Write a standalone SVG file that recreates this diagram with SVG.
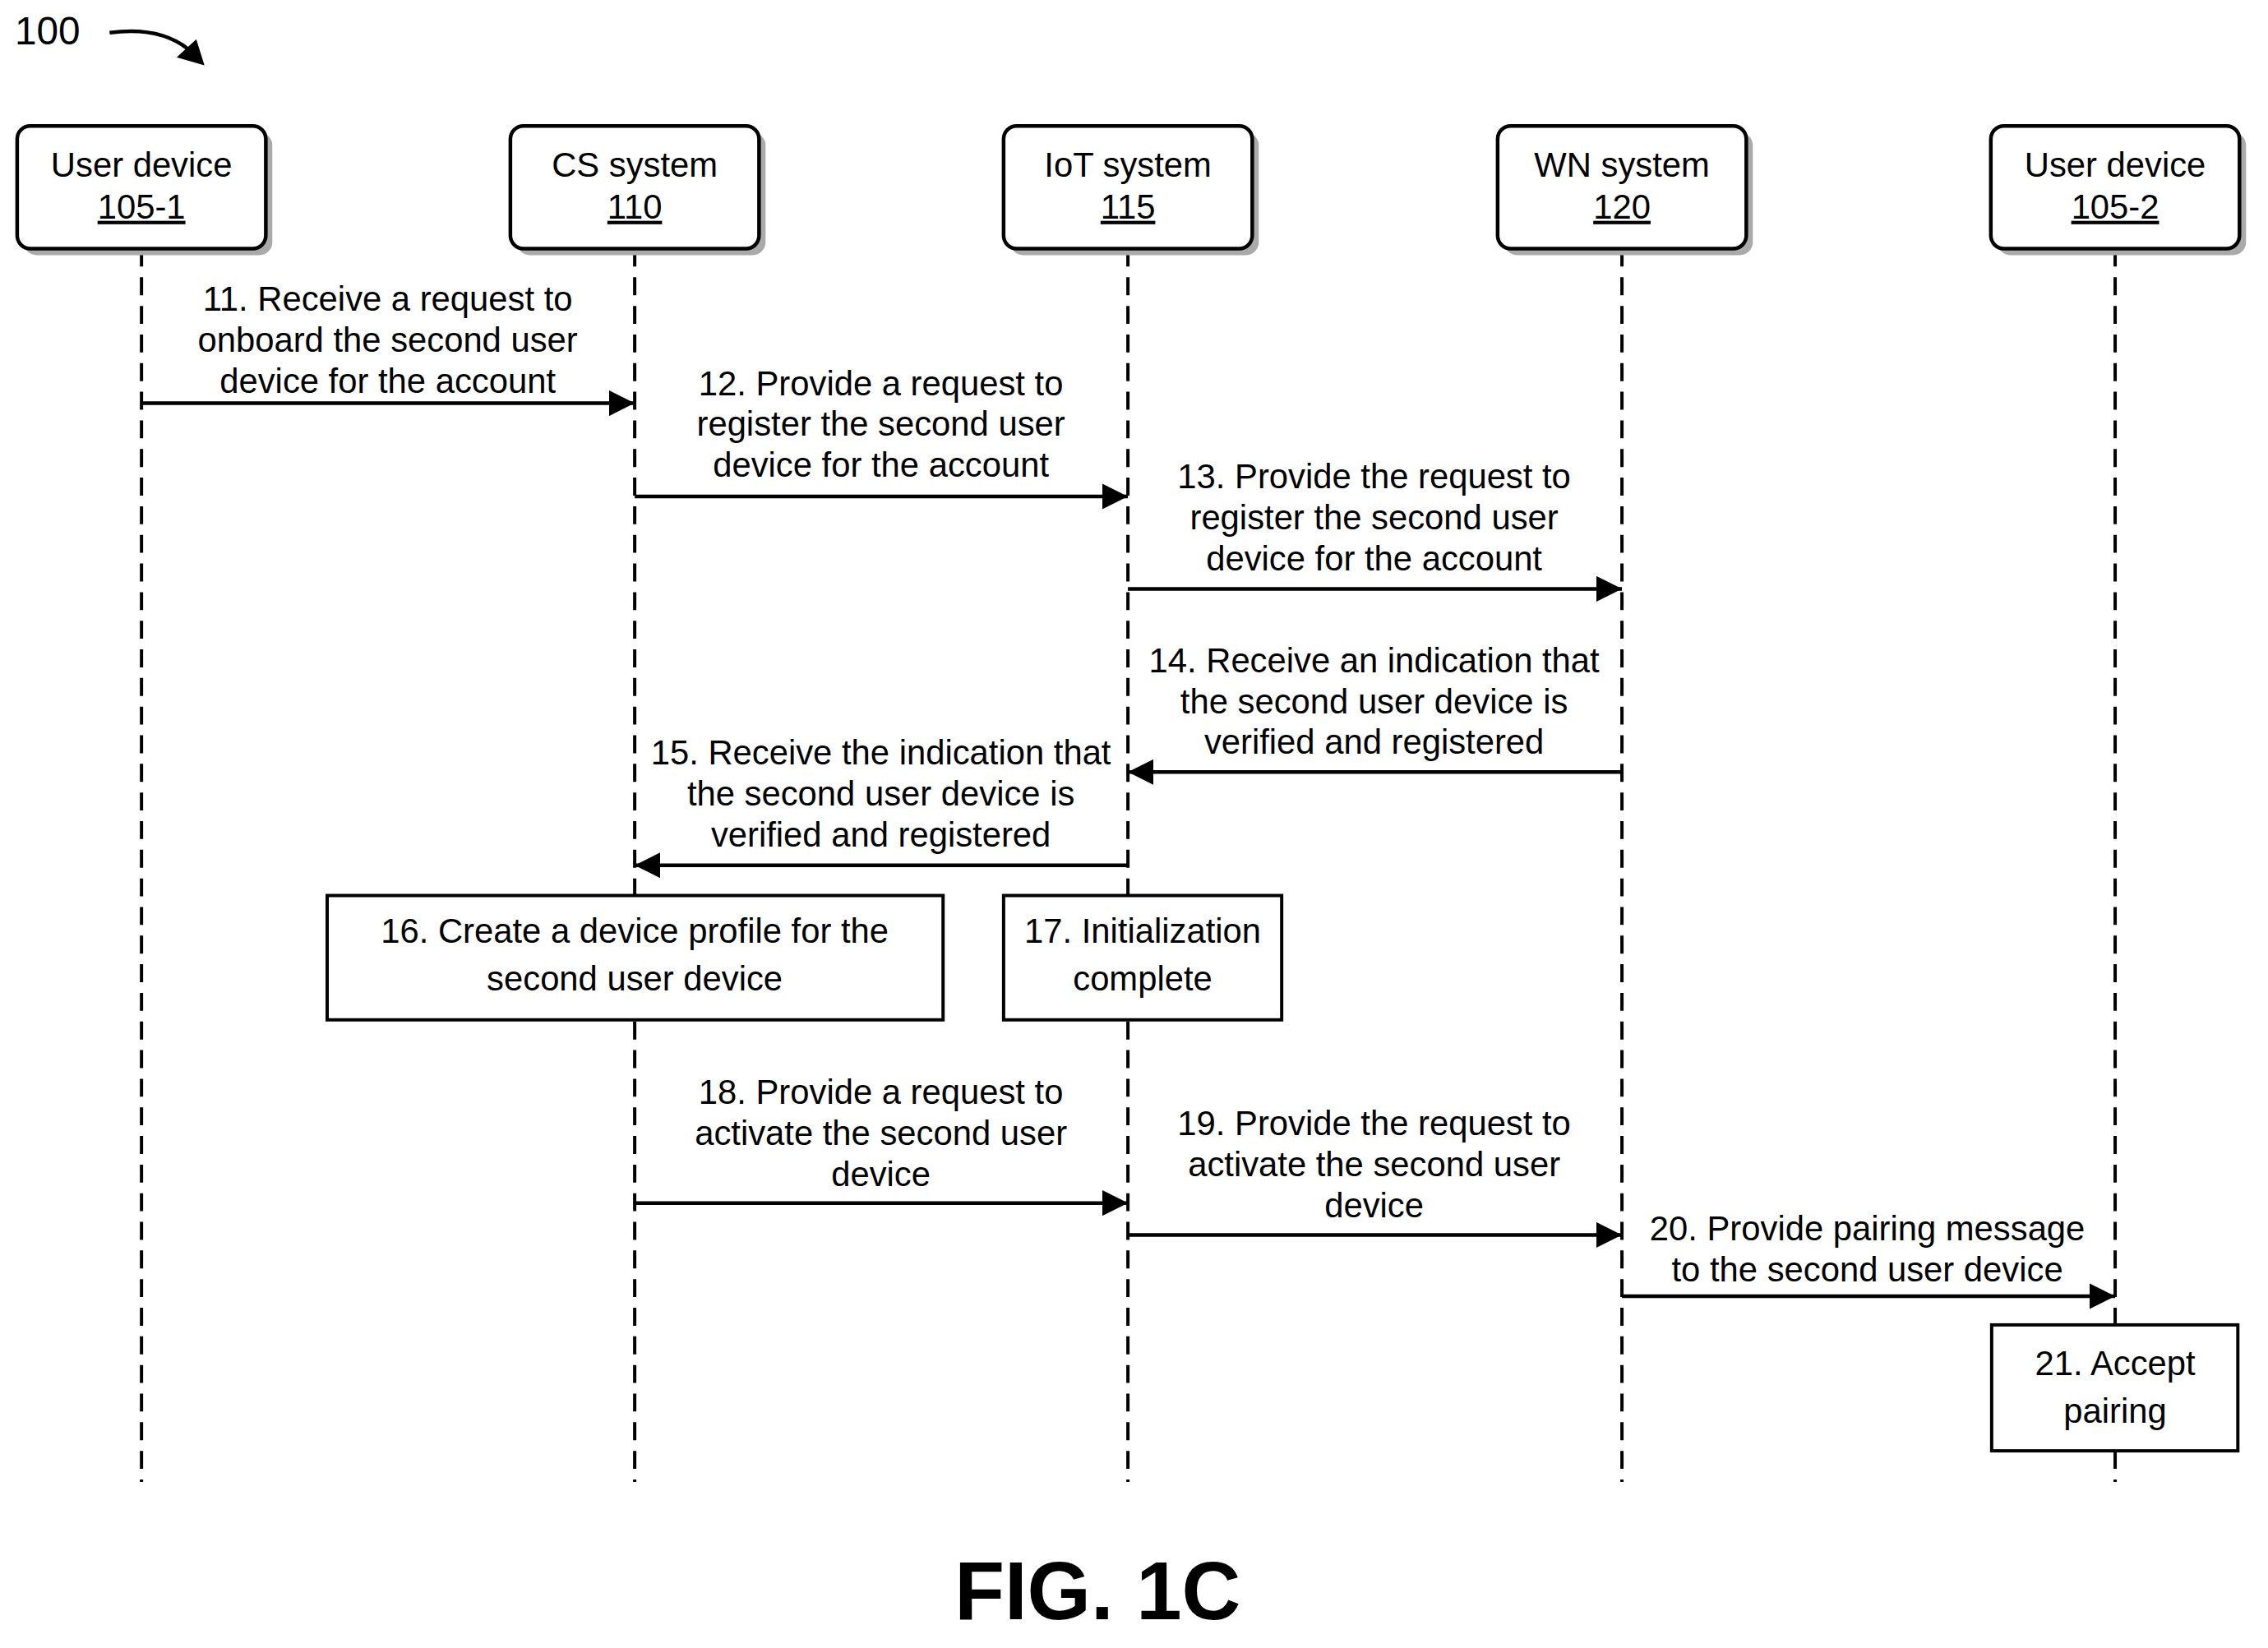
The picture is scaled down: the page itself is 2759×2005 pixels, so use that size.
<svg xmlns="http://www.w3.org/2000/svg" width="2759" height="2005" viewBox="0 0 2759 2005">
<defs>
<style>
text{font-family:"Liberation Sans",Arial,sans-serif;font-size:42px;fill:#000;text-anchor:middle}
.life{stroke:#000;stroke-width:4;stroke-dasharray:22 13;fill:none}
.msg{stroke:#000;stroke-width:4.5;fill:none;marker-end:url(#ah)}
.node{fill:#fff;stroke:#000;stroke-width:4.5}
.shadow{fill:#aaa}
.step{fill:#fff;stroke:#000;stroke-width:4}
</style>
<marker id="ah" viewBox="0 0 10 10" refX="10" refY="5" markerWidth="7" markerHeight="7" markerUnits="strokeWidth" orient="auto"><path d="M0,0 L10,5 L0,10 z" fill="#000"/></marker>
</defs>
<rect width="2759" height="2005" fill="#fff"/>
<g transform="scale(0.995)">
<text x="18" y="54" style="text-anchor:start;font-size:48px">100</text>
<path d="M134,40 Q195,32 230,60" stroke="#000" stroke-width="4.5" fill="none"/>
<path d="M216,70 L250,80 L240,48 z" fill="#000"/>
<g id="lifelines">
<line class="life" x1="173" y1="304" x2="173" y2="1812"/>
<line class="life" x1="776" y1="304" x2="776" y2="1812"/>
<line class="life" x1="1379" y1="304" x2="1379" y2="1812"/>
<line class="life" x1="1983" y1="304" x2="1983" y2="1812"/>
<line class="life" x1="2586" y1="304" x2="2586" y2="1812"/>
</g>
<g id="n1051"><rect class="shadow" x="29" y="162" width="304" height="150" rx="16"/><rect class="node" x="21" y="154" width="304" height="150" rx="16"/><text x="173" y="216">User device</text><text x="173" y="267" text-decoration="underline">105-1</text></g>
<g id="n110"><rect class="shadow" x="632" y="162" width="304" height="150" rx="16"/><rect class="node" x="624" y="154" width="304" height="150" rx="16"/><text x="776" y="216">CS system</text><text x="776" y="267" text-decoration="underline">110</text></g>
<g id="n115"><rect class="shadow" x="1235" y="162" width="304" height="150" rx="16"/><rect class="node" x="1227" y="154" width="304" height="150" rx="16"/><text x="1379" y="216">IoT system</text><text x="1379" y="267" text-decoration="underline">115</text></g>
<g id="n120"><rect class="shadow" x="1839" y="162" width="304" height="150" rx="16"/><rect class="node" x="1831" y="154" width="304" height="150" rx="16"/><text x="1983" y="216">WN system</text><text x="1983" y="267" text-decoration="underline">120</text></g>
<g id="n1052"><rect class="shadow" x="2442" y="162" width="304" height="150" rx="16"/><rect class="node" x="2434" y="154" width="304" height="150" rx="16"/><text x="2586" y="216">User device</text><text x="2586" y="267" text-decoration="underline">105-2</text></g>
<g id="connectors">
<line class="msg" x1="173" y1="493" x2="776" y2="493"/>
<line class="msg" x1="776" y1="607" x2="1379" y2="607"/>
<line class="msg" x1="1379" y1="720" x2="1983" y2="720"/>
<line class="msg" x1="1983" y1="944" x2="1379" y2="944"/>
<line class="msg" x1="1379" y1="1058" x2="776" y2="1058"/>
<line class="msg" x1="776" y1="1471" x2="1379" y2="1471"/>
<line class="msg" x1="1379" y1="1510" x2="1983" y2="1510"/>
<line class="msg" x1="1983" y1="1585" x2="2586" y2="1585"/>
</g>
<g id="labels">
<text x="474" y="380">11. Receive a request to</text><text x="474" y="430">onboard the second user</text><text x="474" y="480">device for the account</text>
<text x="1077" y="483">12. Provide a request to</text><text x="1077" y="533">register the second user</text><text x="1077" y="583">device for the account</text>
<text x="1680" y="597">13. Provide the request to</text><text x="1680" y="647">register the second user</text><text x="1680" y="697">device for the account</text>
<text x="1680" y="822">14. Receive an indication that</text><text x="1680" y="872">the second user device is</text><text x="1680" y="922">verified and registered</text>
<text x="1077" y="935">15. Receive the indication that</text><text x="1077" y="985">the second user device is</text><text x="1077" y="1035">verified and registered</text>
<text x="1077" y="1350">18. Provide a request to</text><text x="1077" y="1400">activate the second user</text><text x="1077" y="1450">device</text>
<text x="1680" y="1388">19. Provide the request to</text><text x="1680" y="1438">activate the second user</text><text x="1680" y="1488">device</text>
<text x="2283" y="1517">20. Provide pairing message</text><text x="2283" y="1567">to the second user device</text>
</g>
<g id="s16"><rect class="step" x="400" y="1095" width="753" height="152"/><text x="776" y="1153">16. Create a device profile for the</text><text x="776" y="1211">second user device</text></g>
<g id="s17"><rect class="step" x="1227" y="1095" width="340" height="152"/><text x="1397" y="1153">17. Initialization</text><text x="1397" y="1211">complete</text></g>
<g id="s21"><rect class="step" x="2435" y="1620" width="301" height="154"/><text x="2586" y="1681">21. Accept</text><text x="2586" y="1740">pairing</text></g>
<text x="1342" y="1980" style="font-size:100px;font-weight:bold">FIG. 1C</text>
</g>
</svg>
